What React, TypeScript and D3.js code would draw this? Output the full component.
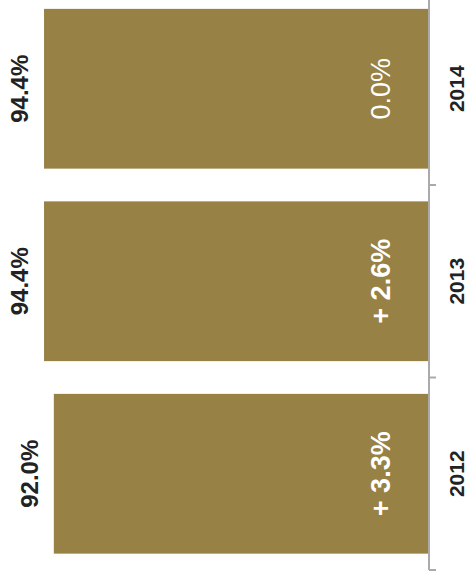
import React from 'react';
import * as d3 from 'd3';

// data, top to bottom as drawn
const years = ['2014', '2013', '2012'];
const shares = [94.4, 94.4, 92.0];
const changes = ['0.0%', '+ 2.6%', '+ 3.3%'];
const shareLabels = ['94.4%', '94.4%', '92.0%'];

const W = 467;
const H = 573;

export default function App() {
  const y = d3.scaleBand<string>()
    .domain(years)
    .range([-7.5, 570])
    .paddingInner(0.17)
    .paddingOuter(0.085);

  const x = d3.scaleLinear().domain([0, 100]).range([429, 21.2]);

  const font = '"Liberation Sans", Arial, Helvetica, sans-serif';
  const boundaries = years.map((_, i) => y.range()[0] + (i + 1) * y.step());

  return (
    <svg width={W} height={H} style={{ position: 'absolute', left: 0, top: 0 }} fontFamily={font}>
      {years.map((yr, i) => {
        const y0 = y(yr) ?? 0;
        const cy = y0 + y.bandwidth() / 2;
        const x0 = x(shares[i]);
        const bold = changes[i] !== '0.0%';
        return (
          <g key={yr}>
            <rect x={x0} y={y0} width={x(0) - x0} height={y.bandwidth()} fill="#978144" />
            {/* share label left of bar */}
            <text transform={`translate(${x0 - 16},${cy}) rotate(-90)`} textAnchor="middle"
              fontSize={24} fontWeight="bold" fill="#222">{shareLabels[i]}</text>
            {/* change label inside bar */}
            <text transform={`translate(${x(0) - 39},${cy}) rotate(-90)`} textAnchor="middle"
              fontSize={27} fontWeight={bold ? 'bold' : 'normal'} fill="#fff">{changes[i]}</text>
            {/* year */}
            <text transform={`translate(464,${cy}) rotate(-90)`} textAnchor="middle"
              fontSize={21} fontWeight="bold" fill="#222">{yr}</text>
          </g>
        );
      })}
      <line x1={x(0)} x2={x(0)} y1={0} y2={570} stroke="#aaa" strokeWidth={2} />
      {boundaries.map(b => (
        <line key={b} x1={x(0)} x2={x(0) + 7} y1={b} y2={b} stroke="#aaa" strokeWidth={2} />
      ))}
    </svg>
  );
}
